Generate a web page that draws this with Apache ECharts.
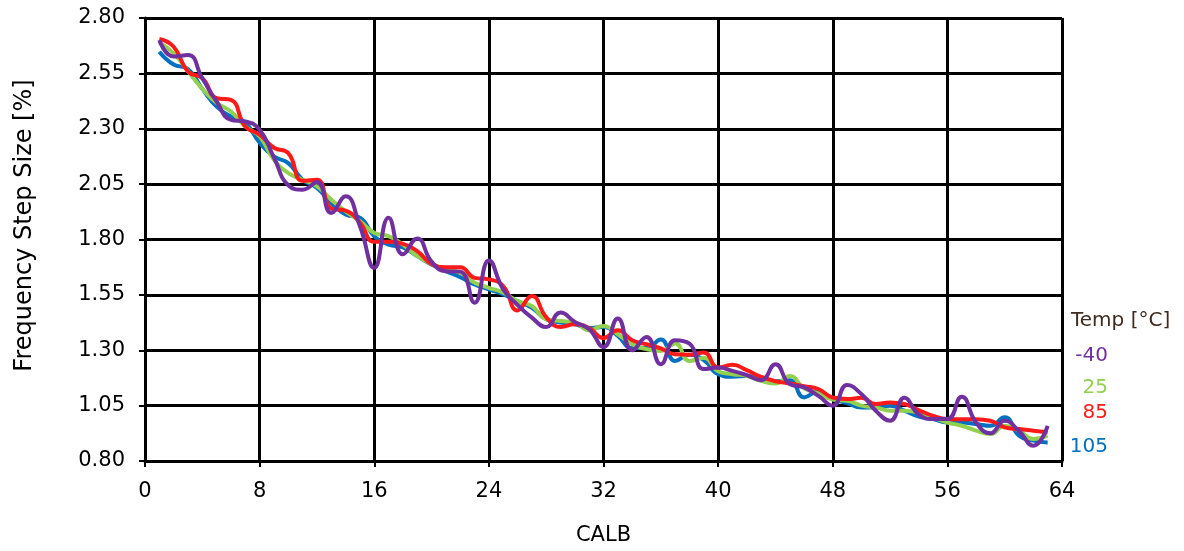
<!DOCTYPE html>
<html>
<head>
<meta charset="utf-8">
<script src="https://cdn.jsdelivr.net/npm/echarts@6/dist/echarts.min.js"></script>
<style>
html,body{margin:0;padding:0;background:#fff;}
#chart{width:1184px;height:551px;}
</style>
</head>
<body>
<div id="chart"></div>
<script>
var calb = [1,2,3,4,5,6,7,8,9,10,11,12,13,14,15,16,17,18,19,20,21,22,23,24,25,26,27,28,29,30,31,32,33,34,35,36,37,38,39,40,41,42,43,44,45,46,47,48,49,50,51,52,53,54,55,56,57,58,59,60,61,62,63];

var tempM40 = [2.700,2.626,2.633,2.528,2.423,2.340,2.333,2.295,2.170,2.045,2.025,2.060,1.920,1.995,1.860,1.672,1.898,1.733,1.805,1.700,1.657,1.655,1.515,1.705,1.575,1.505,1.447,1.405,1.470,1.428,1.395,1.315,1.443,1.300,1.360,1.237,1.345,1.330,1.215,1.222,1.207,1.188,1.165,1.237,1.147,1.132,1.094,1.050,1.143,1.102,1.027,0.982,1.085,1.010,0.990,0.990,1.090,0.974,0.925,0.982,0.935,0.869,0.959];

var temp25 = [2.690,2.640,2.560,2.480,2.417,2.378,2.310,2.265,2.160,2.100,2.070,2.040,1.980,1.927,1.883,1.830,1.815,1.777,1.725,1.690,1.665,1.650,1.605,1.582,1.560,1.522,1.500,1.440,1.432,1.425,1.390,1.410,1.372,1.327,1.305,1.297,1.330,1.252,1.265,1.205,1.192,1.184,1.162,1.150,1.184,1.128,1.105,1.077,1.072,1.050,1.042,1.027,1.027,1.020,0.997,0.974,0.959,0.937,0.922,0.959,0.937,0.899,0.914];

var temp85 = [2.705,2.670,2.558,2.528,2.438,2.430,2.310,2.273,2.214,2.190,2.065,2.070,1.940,1.930,1.876,1.790,1.790,1.780,1.748,1.690,1.675,1.675,1.627,1.620,1.590,1.480,1.545,1.450,1.405,1.417,1.400,1.355,1.390,1.345,1.327,1.308,1.282,1.280,1.290,1.222,1.234,1.210,1.180,1.160,1.150,1.138,1.125,1.087,1.080,1.085,1.057,1.064,1.057,1.030,1.004,0.990,0.989,0.989,0.982,0.952,0.944,0.937,0.930];

var temp105 = [2.648,2.590,2.570,2.480,2.400,2.355,2.327,2.237,2.175,2.145,2.070,2.033,1.965,1.913,1.898,1.815,1.777,1.764,1.725,1.687,1.657,1.630,1.597,1.575,1.552,1.522,1.492,1.440,1.425,1.417,1.400,1.405,1.365,1.310,1.310,1.348,1.252,1.280,1.255,1.192,1.180,1.184,1.170,1.160,1.165,1.087,1.115,1.079,1.062,1.042,1.042,1.050,1.027,1.000,0.989,0.974,0.974,0.967,0.959,0.997,0.914,0.892,0.884];

var seriesNames = ['-40', '25', '85', '105'];
var seriesColors = ['#7030a0', '#92d050', '#ff1a1a', '#0070c0'];
var legendTitle = 'Temp [°C]';
var xAxisName = 'CALB';
var yAxisName = 'Frequency Step Size [%]';

function pairs(vals) {
  return calb.map(function (c, i) { return [c, vals[i]]; });
}

var FONT = 'DejaVu Sans';

function mkSeries(name, vals, color, z) {
  return {
    name: name,
    type: 'line',
    data: pairs(vals),
    smooth: 0.5,
    showSymbol: false,
    symbol: 'none',
    z: z,
    lineStyle: { color: color, width: 4 },
    itemStyle: { color: color },
    animation: false
  };
}

var chart = echarts.init(document.getElementById('chart'), null, { renderer: 'canvas' });

var option = {
  backgroundColor: '#ffffff',
  animation: false,
  grid: { left: 145, right: 122, top: 18, bottom: 89, containLabel: false },
  xAxis: {
    type: 'value',
    min: 0, max: 64, interval: 8,
    name: xAxisName,
    nameLocation: 'middle',
    nameGap: 64,
    nameTextStyle: { fontFamily: FONT, fontSize: 21, color: '#000' },
    axisLine: { show: true, lineStyle: { color: '#000', width: 3 } },
    axisTick: { show: true, length: 6, lineStyle: { color: '#000', width: 2 } },
    axisLabel: { fontFamily: FONT, fontSize: 21, color: '#000', margin: 20 },
    splitLine: { show: true, lineStyle: { color: '#000', width: 3 } }
  },
  yAxis: {
    type: 'value',
    min: 0.8, max: 2.8, interval: 0.25,
    name: yAxisName,
    nameLocation: 'middle',
    nameRotate: 90,
    nameGap: 108,
    nameTextStyle: { fontFamily: FONT, fontSize: 24, color: '#000', padding: [0, 0, 0, 28] },
    axisLine: { show: true, lineStyle: { color: '#000', width: 3 } },
    axisTick: { show: true, length: 6, lineStyle: { color: '#000', width: 2 } },
    axisLabel: {
      fontFamily: FONT, fontSize: 21, color: '#000', margin: 20,
      formatter: function (v) { return v.toFixed(2); }
    },
    splitLine: { show: true, lineStyle: { color: '#000', width: 3 } }
  },
  series: [
    mkSeries(seriesNames[3], temp105, seriesColors[3], 2),
    mkSeries(seriesNames[1], temp25, seriesColors[1], 3),
    mkSeries(seriesNames[2], temp85, seriesColors[2], 4),
    mkSeries(seriesNames[0], tempM40, seriesColors[0], 5)
  ],
  graphic: [
    { type: 'text', left: 1071, top: 311, style: { text: legendTitle, fontFamily: FONT, fontSize: 20, fill: '#3d2b1f' } },
    { type: 'text', right: 76, top: 346, style: { text: seriesNames[0], fontFamily: FONT, fontSize: 20, fill: seriesColors[0] } },
    { type: 'text', right: 76, top: 378, style: { text: seriesNames[1], fontFamily: FONT, fontSize: 20, fill: seriesColors[1] } },
    { type: 'text', right: 76, top: 403, style: { text: seriesNames[2], fontFamily: FONT, fontSize: 20, fill: seriesColors[2] } },
    { type: 'text', right: 76, top: 437, style: { text: seriesNames[3], fontFamily: FONT, fontSize: 20, fill: seriesColors[3] } }
  ]
};

chart.setOption(option);
</script>
</body>
</html>
